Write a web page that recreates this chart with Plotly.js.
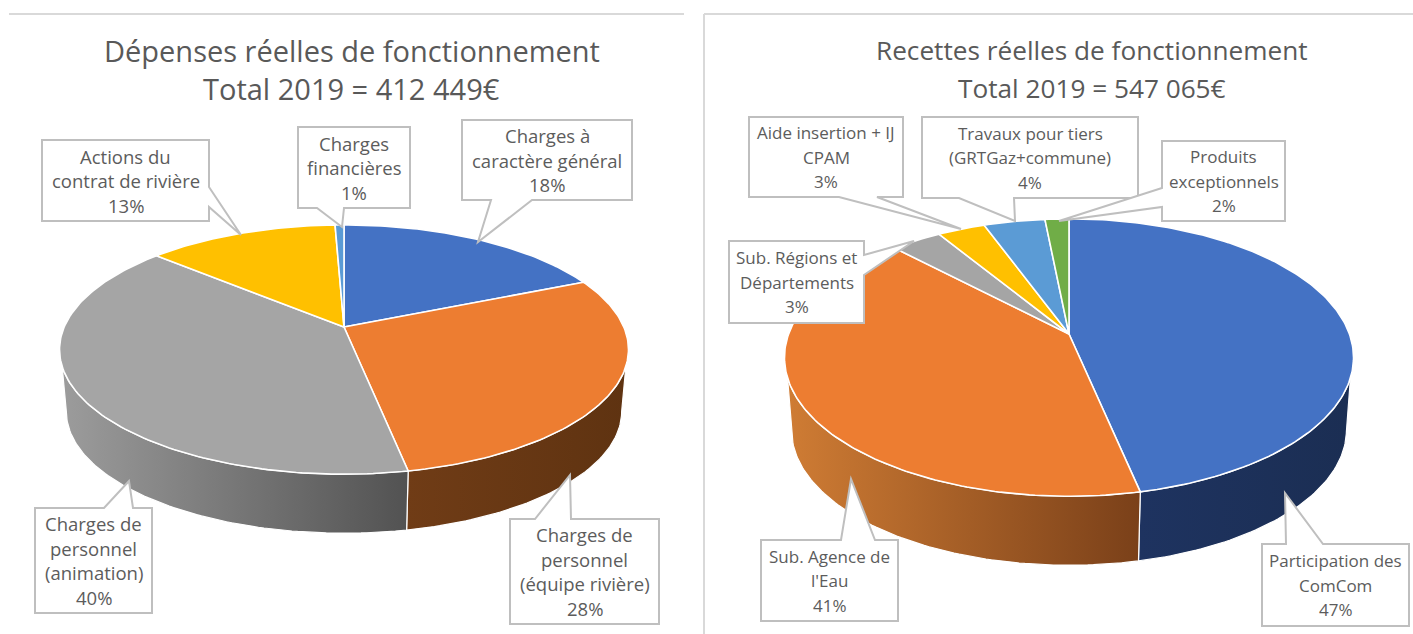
<!DOCTYPE html>
<html><head><meta charset="utf-8">
<script src="https://cdn.plot.ly/plotly-3.0.1.min.js"></script>
<style>html,body{margin:0;padding:0;background:#fff}#c{width:1413px;height:634px}</style>
</head><body><div id="c"></div>
<script>
// ---- data ----
const depensesTitle = ["Dépenses réelles de fonctionnement", "Total 2019 = 412 449€"];
const depensesLabels = [
  ["Charges à", "caractère général"],
  ["Charges de", "personnel", "(équipe rivière)"],
  ["Charges de", "personnel", "(animation)"],
  ["Actions du", "contrat de rivière"],
  ["Charges", "financières"]
];
const depensesValues = [18.49, 28.49, 39.52, 12.9, 0.6];
const depensesColors = ["#4472c4", "#ed7d31", "#a5a5a5", "#ffc000", "#5b9bd5"];

const recettesTitle = ["Recettes réelles de fonctionnement", "Total 2019 = 547 065€"];
const recettesLabels = [
  ["Participation des", "ComCom"],
  ["Sub. Agence de", "l'Eau"],
  ["Sub. Régions et", "Départements"],
  ["Aide insertion + IJ", "CPAM"],
  ["Travaux pour tiers", "(GRTGaz+commune)"],
  ["Produits", "exceptionnels"]
];
const recettesValues = [46.6, 41.1, 3.4, 3.2, 4.1, 1.6];
const recettesColors = ["#4472c4", "#ed7d31", "#a5a5a5", "#ffc000", "#5b9bd5", "#70ad47"];

// ---- layout constants (page pixels) ----
const leftPie  = {cx:344,  cy:327, A:279.8, B:120.6, k:0.1807, depth:62.5, shrink:0.976, titleX:351.5, titleSize:29, labelSize:18.5};
const rightPie = {cx:1069, cy:334, A:280.4, B:134.7, k:0.1698, depth:73,   shrink:0.975, titleX:1092,  titleSize:26.2, labelSize:17};
const leftWalls = [["#2b4578","#1f3358"],["#703c16","#5f3311"],["#9c9c9c","#525252"],["#997300","#7f6000"],["#2e75b6","#1f4e79"]];
const rightWalls = [["#1e3360","#1b2e53"],["#cf7c34","#7a4019"],["#7c7c7c","#636363"],["#bf9000","#7f6000"],["#2e75b6","#1f4e79"],["#548235","#385723"]];
const SIDE_TOP = 108, SIDE_LOW = 100.4;   // angles where the wall silhouette joins the two rims

// callouts: box [x0,y0,x1,y1], pointer side, two base points, tip
const leftBoxes = [
  {b:[462,120,632,200], s:"bottom", p:[491,532], t:[478,242]},
  {b:[510,519,659,624], s:"top",    p:[535,571], t:[570,475]},
  {b:[35,508,152,613],  s:"top",    p:[104,133], t:[129,481]},
  {b:[42,140,209,221],  s:"right",  p:[187,207], t:[241,235]},
  {b:[298,127,410,208], s:"bottom", p:[317,344], t:[342,227]}
];
const rightBoxes = [
  {b:[1262,544,1409,626], s:"top",    p:[1286,1323], t:[1285,493]},
  {b:[761,540,898,621],   s:"top",    p:[841,875],   t:[851,479]},
  {b:[729,241,864,323],   s:"right",  p:[255,275],   t:[914,241]},
  {b:[749,117,903,197],   s:"bottom", p:[839,877],   t:[961,229]},
  {b:[922,117,1138,198],  s:"bottom", p:[959,1014],  t:[1015,221]},
  {b:[1162,141,1285,221], s:"left",   p:[188,207],   t:[1059,221]}
];
const TEXT = "#5c5c5c", FONT = "'Open Sans', 'Noto Sans', sans-serif", EDGE = "#bfbfbf";
const LINE = 24.5;

// ---- perspective projection of a disc ----
function rim(g, deg, lower) {
  const t = deg * Math.PI / 180, X = Math.sin(t), Y = Math.cos(t), w = 1 + g.k * Y;
  const s = lower ? g.shrink : 1, d = lower ? g.depth : 0;
  return [g.cx + s * g.A * X / w, g.cy - s * g.B * Y / w + d];
}
function arc(g, a0, a1, lower) {
  const n = Math.max(2, Math.ceil(Math.abs(a1 - a0))), pts = [];
  for (let i = 0; i <= n; i++) pts.push(rim(g, a0 + (a1 - a0) * i / n, lower));
  return pts;
}
function poly(pts, extra) {
  return Object.assign({x: pts.map(p => p[0]), y: pts.map(p => p[1]), type: "scatter", mode: "lines",
    fill: "toself", hoverinfo: "skip", showlegend: false}, extra);
}
function pieTraces(g, values, colors, walls) {
  const total = values.reduce((a, b) => a + b, 0), out = [], tops = [];
  let a = 0;
  values.forEach((v, i) => {
    const a1 = a + v / total * 360;
    const t0 = Math.max(a, SIDE_TOP), t1 = Math.min(a1, 360 - SIDE_TOP);
    const l0 = Math.max(a, SIDE_LOW), l1 = Math.min(a1, 360 - SIDE_LOW);
    if (a1 > 90 && a < 270) {           // only the front of the disc shows a wall
      const w = arc(g, Math.min(t0, a1), Math.max(t1, a), false).concat(arc(g, l1, l0, true));
      out.push(poly(w.concat([w[0]]), {
        line: {color: "#ffffff", width: 1.2},
        fillgradient: {type: "horizontal", colorscale: [[0, walls[i][0]], [1, walls[i][1]]]}
      }));
    }
    const top = [[g.cx, g.cy]].concat(arc(g, a, a1, false)).concat([[g.cx, g.cy]]);
    tops.push(poly(top, {line: {color: "#ffffff", width: 1.6}, fillcolor: colors[i]}));
    a = a1;
  });
  return out.concat(tops);
}
function calloutPath(c) {
  const [x0, y0, x1, y1] = c.b, [p, q] = c.p, [tx, ty] = c.t;
  const pts = [[x0, y0]];
  if (c.s === "top") pts.push([p, y0], [tx, ty], [q, y0]);
  pts.push([x1, y0]);
  if (c.s === "right") pts.push([x1, p], [tx, ty], [x1, q]);
  pts.push([x1, y1]);
  if (c.s === "bottom") pts.push([q, y1], [tx, ty], [p, y1]);
  pts.push([x0, y1]);
  if (c.s === "left") pts.push([x0, q], [tx, ty], [x0, p]);
  return "M" + pts.map(v => v.join(" ")).join("L") + "Z";
}
function callouts(g, boxes, labels, values, shapes, notes) {
  const total = values.reduce((a, b) => a + b, 0);
  boxes.forEach((c, i) => {
    shapes.push({type: "path", xref: "x", yref: "y", layer: "above", path: calloutPath(c),
      fillcolor: "#ffffff", line: {color: EDGE, width: 2}});
    const lines = labels[i].concat([Math.round(values[i] / total * 100) + "%"]);
    const mx = (c.b[0] + c.b[2]) / 2, my = (c.b[1] + c.b[3]) / 2;
    lines.forEach((t, j) => notes.push({xref: "x", yref: "y", x: mx, y: my + (j - (lines.length - 1) / 2) * LINE,
      text: t, showarrow: false, font: {family: FONT, size: g.labelSize, color: TEXT}, xanchor: "center", yanchor: "middle"}));
  });
}
const shapes = [
  {type: "line", xref: "x", yref: "y", x0: 9, x1: 684, y0: 14, y1: 14, line: {color: "#d9d9d9", width: 2}},
  {type: "line", xref: "x", yref: "y", x0: 704, x1: 1413, y0: 14, y1: 14, line: {color: "#d9d9d9", width: 2}},
  {type: "line", xref: "x", yref: "y", x0: 704, x1: 704, y0: 14, y1: 634, line: {color: "#d9d9d9", width: 2}}
];
const notes = [];
function titles(lines, g) {
  lines.forEach((t, j) => notes.push({xref: "x", yref: "y", x: g.titleX, y: 50 + j * 38, text: t, showarrow: false,
    font: {family: FONT, size: g.titleSize, color: "#595959"}, xanchor: "center", yanchor: "middle"}));
}
titles(depensesTitle, leftPie);
titles(recettesTitle, rightPie);
callouts(leftPie, leftBoxes, depensesLabels, depensesValues, shapes, notes);
callouts(rightPie, rightBoxes, recettesLabels, recettesValues, shapes, notes);

const data = pieTraces(leftPie, depensesValues, depensesColors, leftWalls)
  .concat(pieTraces(rightPie, recettesValues, recettesColors, rightWalls));
const hidden = {visible: false, fixedrange: true};
Plotly.newPlot("c", data, {
  width: 1413, height: 634, margin: {l: 0, r: 0, t: 0, b: 0},
  paper_bgcolor: "#ffffff", plot_bgcolor: "#ffffff", showlegend: false,
  xaxis: Object.assign({range: [0, 1413]}, hidden),
  yaxis: Object.assign({range: [634, 0]}, hidden),
  shapes: shapes, annotations: notes
}, {displayModeBar: false, staticPlot: true});
</script></body></html>
